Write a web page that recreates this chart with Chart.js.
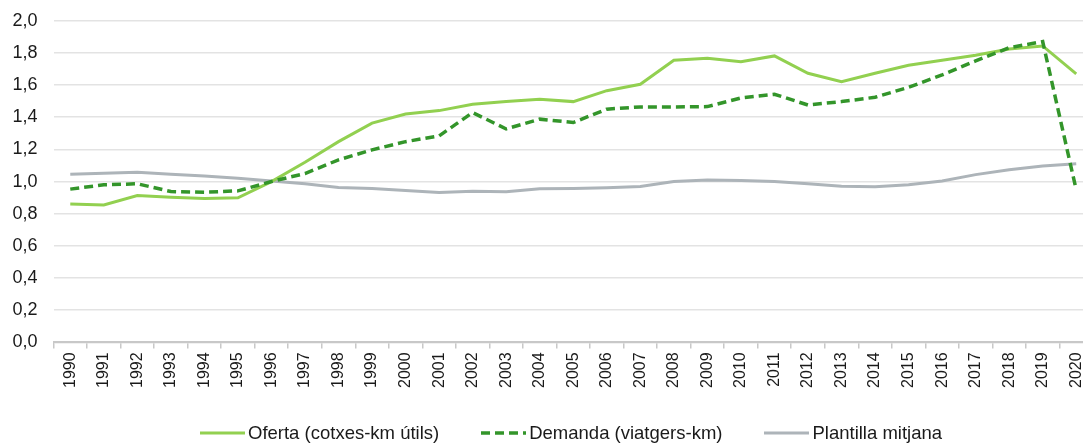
<!DOCTYPE html>
<html>
<head>
<meta charset="utf-8">
<script src="https://cdn.jsdelivr.net/npm/chart.js@4/dist/chart.umd.min.js"></script>
<style>
  html, body { margin: 0; padding: 0; background: #fff; overflow: hidden; width: 1083px; height: 444px; }
  #wrap { position: relative; width: 1100px; height: 444px; }
  #legend { position: absolute; top: 422px; left: 200px; display: flex; align-items: center;
            font-family: "Liberation Sans", Arial, sans-serif; font-size: 18.5px; color: #1a1a1a; white-space: nowrap; }
  .item { display: flex; align-items: center; margin-right: 42px; }
  .item svg { margin-right: 3px; }
</style>
</head>
<body>
<div id="wrap">
  <canvas id="c"></canvas>
  <div id="legend"></div>
</div>
<script>
const years = ['1990','1991','1992','1993','1994','1995','1996','1997','1998','1999','2000','2001','2002','2003','2004','2005','2006','2007','2008','2009','2010','2011','2012','2013','2014','2015','2016','2017','2018','2019','2020'];
const oferta = [0.86,0.855,0.913,0.903,0.895,0.899,1.0,1.12,1.248,1.363,1.42,1.441,1.48,1.497,1.512,1.497,1.565,1.605,1.754,1.766,1.745,1.781,1.673,1.621,1.673,1.723,1.754,1.785,1.824,1.843,1.669];
const demanda = [0.953,0.98,0.986,0.938,0.934,0.942,1.0,1.05,1.135,1.197,1.248,1.284,1.429,1.327,1.388,1.367,1.45,1.464,1.464,1.466,1.52,1.543,1.476,1.497,1.524,1.586,1.663,1.75,1.832,1.87,0.948];
const plantilla = [1.046,1.052,1.058,1.046,1.035,1.021,1.004,0.986,0.963,0.957,0.945,0.932,0.94,0.936,0.955,0.957,0.961,0.969,1.0,1.01,1.006,1.0,0.986,0.971,0.967,0.98,1.004,1.043,1.073,1.096,1.11];
const seriesNames = ['Oferta (cotxes-km útils)', 'Demanda (viatgers-km)', 'Plantilla mitjana'];
const yTicks = [0, 0.2, 0.4, 0.6, 0.8, 1.0, 1.2, 1.4, 1.6, 1.8, 2.0];

const colors = ['#92D050', '#33952A', '#ADB4B9'];
const dashes = [[], [9, 5], []];
const widths = [3, 3.5, 3];

const FONT = '"Liberation Sans", Arial, sans-serif';

const datasets = [oferta, demanda, plantilla].map((d, i) => ({
  label: seriesNames[i],
  data: d,
  borderColor: colors[i],
  backgroundColor: colors[i],
  borderWidth: widths[i],
  borderDash: dashes[i],
  pointRadius: 0,
  pointHoverRadius: 0,
  tension: 0,
  fill: false
}));
datasets[0].order = 2; datasets[1].order = 1; datasets[2].order = 3;

new Chart(document.getElementById('c'), {
  type: 'line',
  data: { labels: years, datasets },
  options: {
    responsive: true,
    maintainAspectRatio: false,
    animation: false,
    layout: { padding: { left: 13, right: 7, top: 20.7, bottom: 52 } },
    plugins: { legend: { display: false }, tooltip: { enabled: false } },
    scales: {
      x: {
        type: 'category',
        offset: true,
        afterFit: (s) => { s.paddingLeft = 0; s.paddingRight = 0; },
        grid: { display: true, drawOnChartArea: false, drawTicks: true, tickLength: 6, offset: true, color: '#C8C8C8', lineWidth: 1.5 },
        border: { display: true, color: '#C8C8C8', width: 2 },
        ticks: { minRotation: 90, maxRotation: 90, autoSkip: false, padding: 4, color: '#1a1a1a', font: { family: FONT, size: 16 } }
      },
      y: {
        min: 0, max: 2,
        afterBuildTicks: (s) => { s.ticks = yTicks.map(v => ({ value: v })); },
        afterFit: (s) => { s.width = 40.5; s.paddingTop = 0; s.paddingBottom = 0; },
        grid: { color: '#E3E3E3', lineWidth: 1.5, drawTicks: false },
        border: { display: false },
        ticks: { padding: 16, color: '#1a1a1a', font: { family: FONT, size: 18 },
                 callback: (v) => Number(v).toFixed(1).replace('.', ',') }
      }
    }
  }
});

const leg = document.getElementById('legend');
seriesNames.forEach((name, i) => {
  const item = document.createElement('div');
  item.className = 'item';
  const dash = dashes[i].length ? `stroke-dasharray="${dashes[i].join(' ')}"` : '';
  item.innerHTML = `<svg width="45" height="6"><line x1="0" y1="3" x2="45" y2="3" stroke="${colors[i]}" stroke-width="${widths[i]}" ${dash}/></svg><span></span>`;
  item.querySelector('span').textContent = name;
  leg.appendChild(item);
});
</script>
</body>
</html>
